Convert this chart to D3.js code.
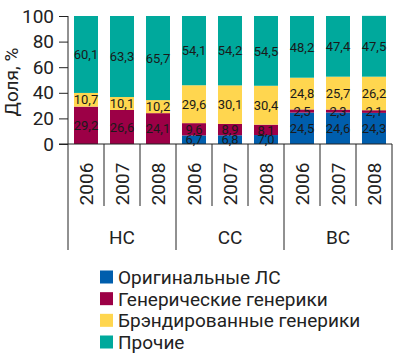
<!DOCTYPE html>
<html><head><meta charset="utf-8">
<script src="https://cdn.jsdelivr.net/npm/d3@7"></script>
<style>body{margin:0;background:#fff}svg{display:block}</style>
</head><body>
<svg id="c" width="400" height="356"></svg>
<script>
const groups = ["НС","СС","ВС"];
const years = ["2006","2007","2008"];
const seriesNames = ["Оригинальные ЛС","Генерические генерики","Брэндированные генерики","Прочие"];
const colors = ["#005EAD","#9C0046","#FFD64F","#00A99C"];
const original = [0,0,0, 6.7,6.8,7.0, 24.5,24.6,24.3];
const generic  = [29.2,26.6,24.1, 9.6,8.9,8.1, 2.5,2.3,2.1];
const branded  = [10.7,10.1,10.2, 29.6,30.1,30.4, 24.8,25.7,26.2];
const other    = [60.1,63.3,65.7, 54.1,54.2,54.5, 48.2,47.4,47.5];
const yTicks = [0,20,40,60,80,100];

const cats = [];
groups.forEach(g => years.forEach(y => cats.push(g + "|" + y)));
const rows = cats.map((c,i)=>({cat:c, s0:original[i], s1:generic[i], s2:branded[i], s3:other[i]}));
const keys = ["s0","s1","s2","s3"];
const stack = d3.stack().keys(keys)(rows);

const svg = d3.select("#c");
const font = "Roboto, 'DejaVu Sans', sans-serif";
const x = d3.scaleBand().domain(cats).range([68,392]).paddingInner(1/3).paddingOuter(1/6);
const y = d3.scaleLinear().domain([0,100]).range([144,16]);

// bars
stack.forEach((layer,k)=>{
  svg.append("g").selectAll("rect").data(layer).join("rect")
    .attr("x", d=>x(d.data.cat)).attr("width", x.bandwidth())
    .attr("y", d=>y(d[1])).attr("height", d=>y(d[0])-y(d[1]))
    .attr("fill", colors[k]);
});
// labels
stack.forEach((layer,k)=>{
  svg.append("g").selectAll("text").data(layer.filter(d=>d[1]-d[0]>0)).join("text")
    .attr("x", d=>x(d.data.cat)+x.bandwidth()/2)
    .attr("y", d=>y((d[0]+d[1])/2))
    .attr("dy","0.36em")
    .attr("text-anchor","middle")
    .attr("font-family",font).attr("font-size",13).attr("fill","#1a1a1a")
    .text(d=>d3.format(".1f")(d[1]-d[0]).replace(".",","));
});

// y axis
const ya = svg.append("g").attr("transform","translate(68,0)")
  .call(d3.axisLeft(y).tickValues(yTicks).tickSize(9).tickPadding(5));
ya.select(".domain").remove();
ya.selectAll("line").attr("stroke","#222");
ya.selectAll("text").attr("font-family",font).attr("font-size",19).attr("fill","#222");
svg.append("line").attr("x1",68).attr("x2",68).attr("y1",16).attr("y2",250).attr("stroke","#222");
svg.append("line").attr("x1",59).attr("x2",392).attr("y1",144).attr("y2",144).attr("stroke","#222");

svg.append("text").attr("transform","translate(18,82) rotate(-90)")
  .attr("text-anchor","middle").attr("font-family",font).attr("font-size",19).attr("fill","#222")
  .text("Доля, %");

// x axis: years
const step = x.step();
cats.forEach((c,i)=>{
  const left = x(c) - x.paddingInner()*step/2;
  const right = left + step;
  const isGroupEnd = (i%3)===2;
  svg.append("line").attr("x1",right).attr("x2",right).attr("y1",144).attr("y2", isGroupEnd?250:206).attr("stroke","#222");
  svg.append("text").attr("transform",`translate(${x(c)+x.bandwidth()/2},184) rotate(-90)`)
    .attr("dy","0.36em").attr("text-anchor","middle")
    .attr("font-family",font).attr("font-size",19).attr("fill","#222")
    .text(c.split("|")[1]);
});
groups.forEach((g,gi)=>{
  const cx = (x(g+"|2007")+x.bandwidth()/2);
  svg.append("text").attr("x",cx).attr("y",237).attr("dy","0.36em").attr("text-anchor","middle")
    .attr("font-family",font).attr("font-size",19).attr("fill","#222").text(g);
});

// legend
const leg = svg.append("g");
const legY = d3.scalePoint().domain(seriesNames).range([277,342]);
seriesNames.forEach((n,i)=>{
  leg.append("rect").attr("x",100).attr("y",legY(n)-6.5).attr("width",13).attr("height",13).attr("fill",colors[i]);
  leg.append("text").attr("x",118).attr("y",legY(n)).attr("dy","0.36em")
    .attr("font-family",font).attr("font-size",19).attr("fill","#222").text(n);
});
</script>
</body></html>
